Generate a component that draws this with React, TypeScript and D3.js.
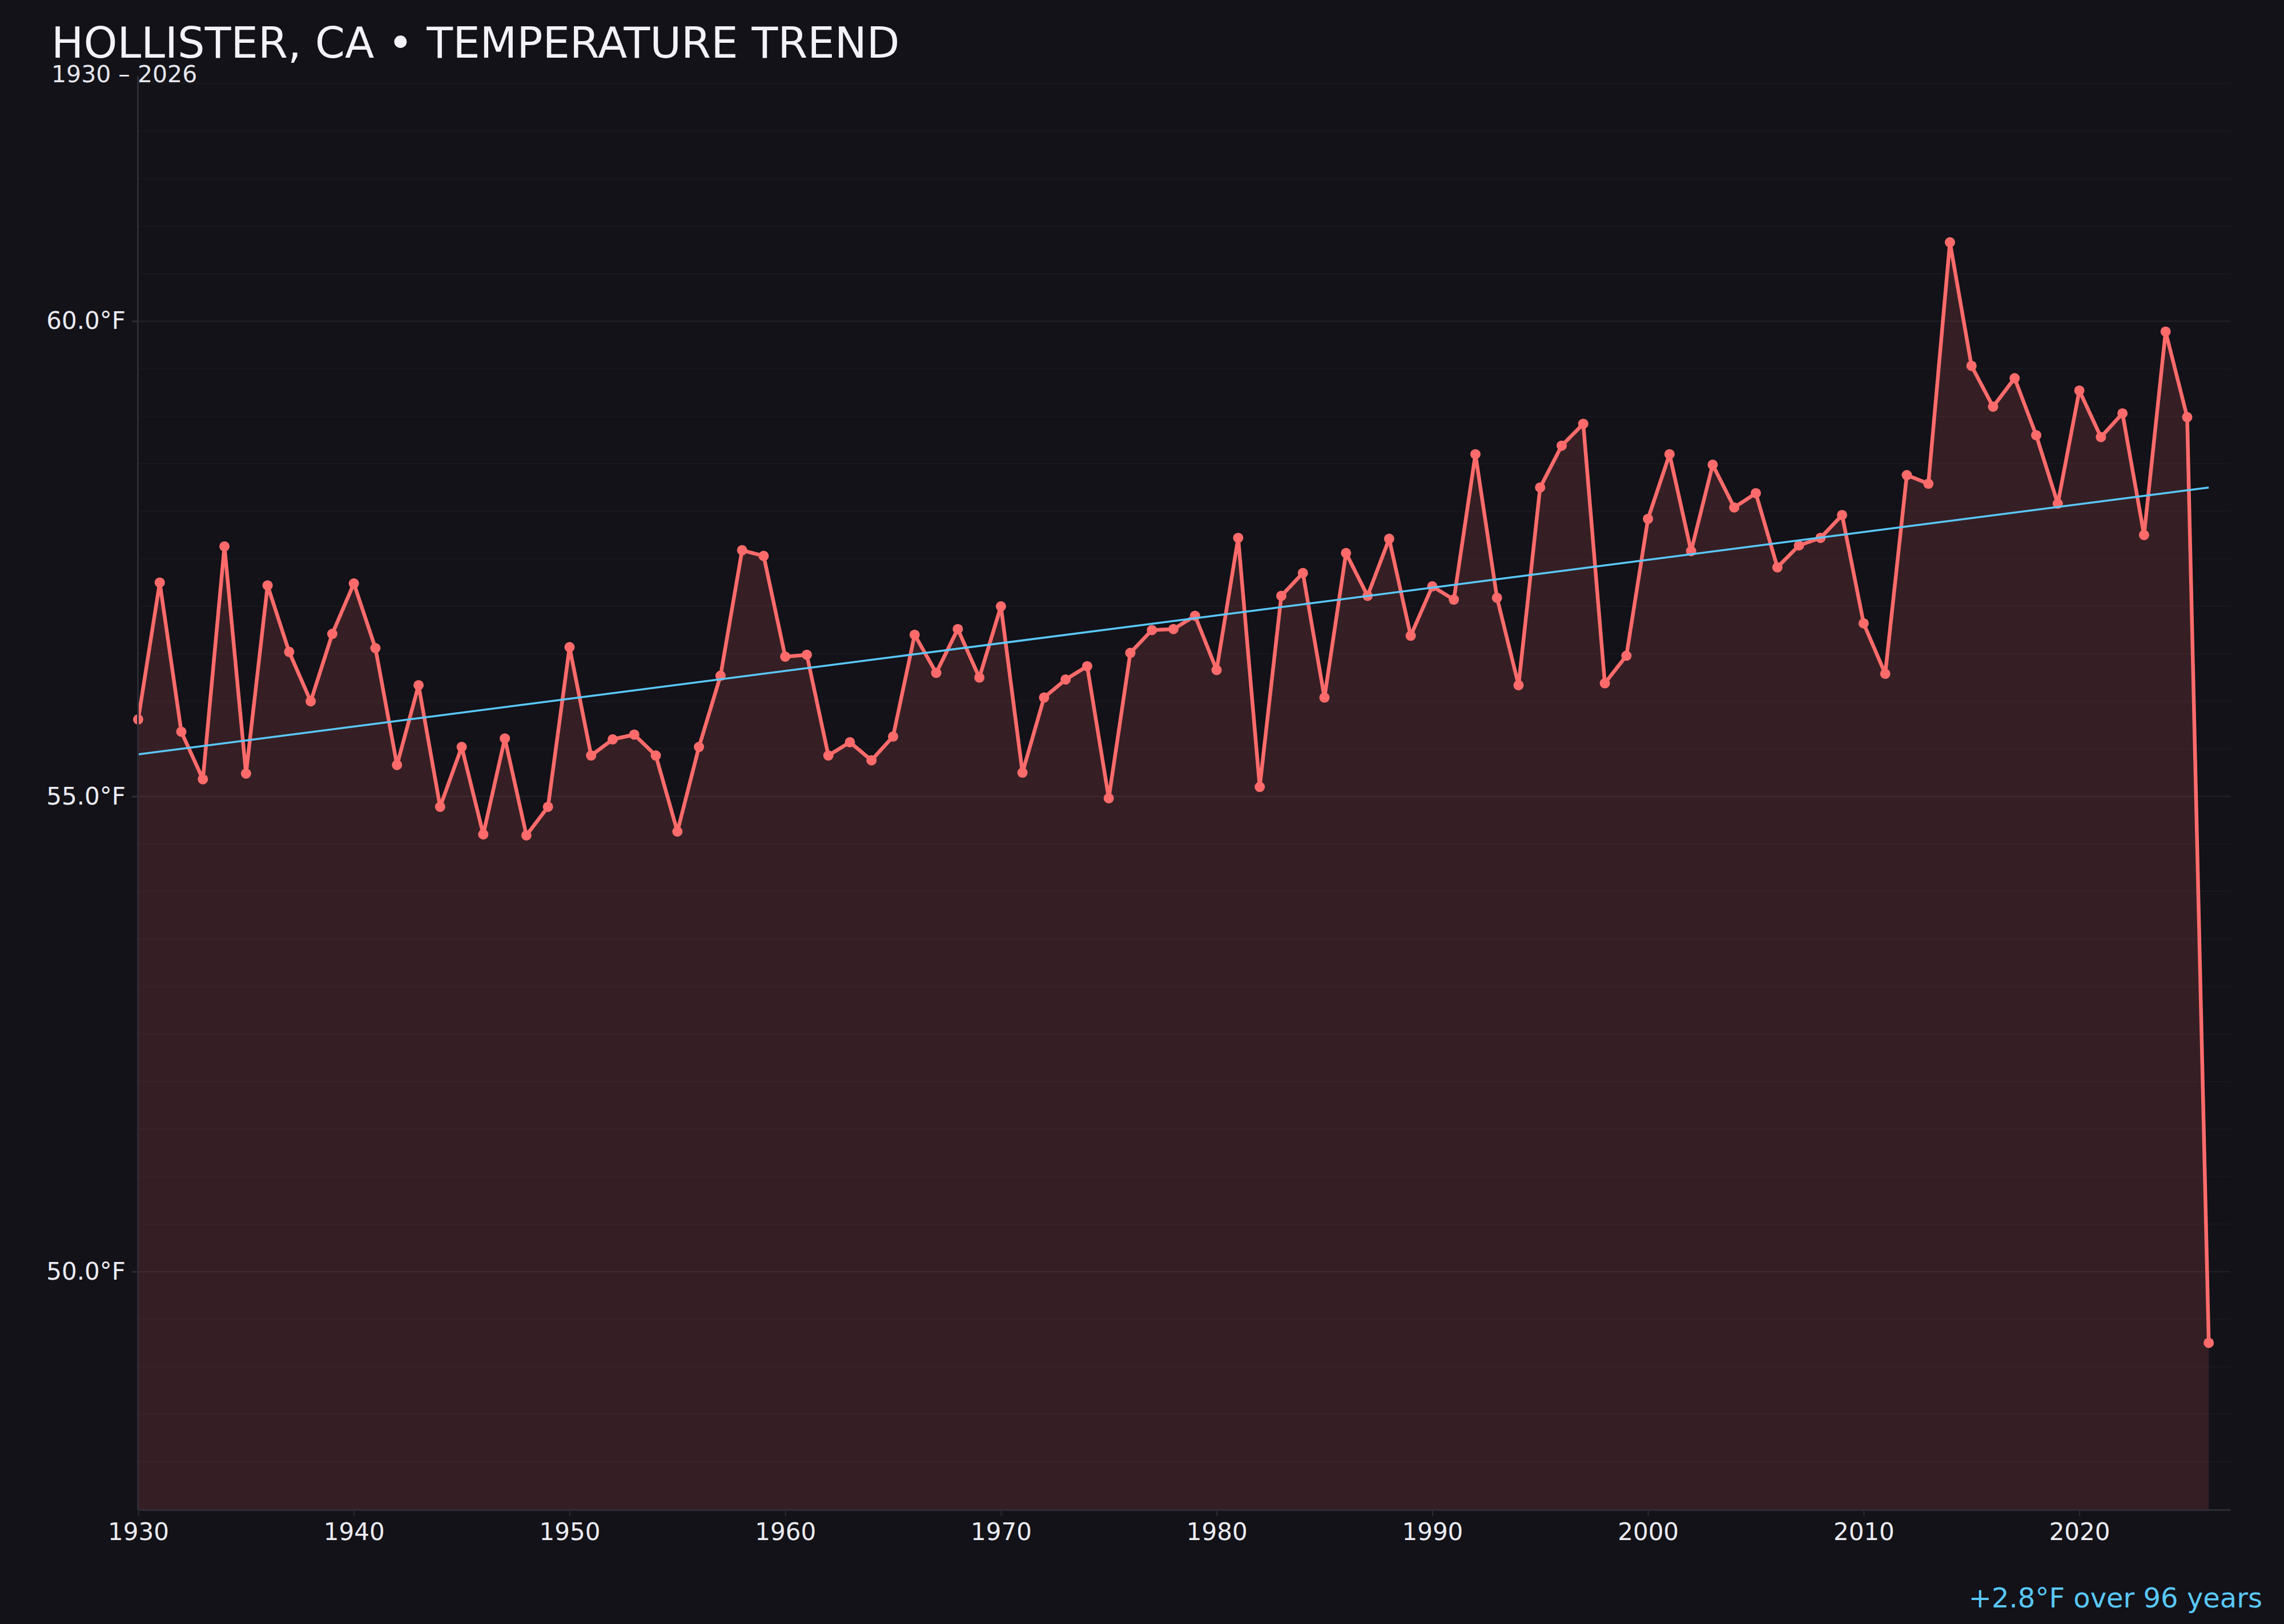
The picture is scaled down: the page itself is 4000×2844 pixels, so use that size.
import { useRef, useEffect } from 'react';
import * as d3 from 'd3';

// Annual mean temperature, Hollister CA (°F)
const YEARS: number[] = d3.range(1930, 2027);
const TEMPS: number[] = [
  55.81, 57.25, 55.68, 55.18, 57.63, 55.24, 57.22, 56.52, 56.0, 56.71,
  57.24, 56.56, 55.33, 56.17, 54.89, 55.52, 54.6, 55.61, 54.59, 54.89,
  56.57, 55.43, 55.6, 55.65, 55.43, 54.63, 55.52, 56.27, 57.59, 57.53,
  56.47, 56.49, 55.43, 55.57, 55.38, 55.63, 56.7, 56.3, 56.76, 56.25,
  57.0, 55.25, 56.04, 56.23, 56.37, 54.98, 56.51, 56.75, 56.76, 56.9,
  56.33, 57.72, 55.1, 57.11, 57.35, 56.04, 57.56, 57.11, 57.71, 56.69,
  57.21, 57.07, 58.6, 57.09, 56.17, 58.25, 58.69, 58.92, 56.19, 56.48,
  57.92, 58.6, 57.58, 58.49, 58.04, 58.19, 57.41, 57.64, 57.72, 57.96,
  56.82, 56.29, 58.38, 58.29, 60.83, 59.53, 59.1, 59.4, 58.8, 58.08,
  59.27, 58.78, 59.03, 57.75, 59.89, 58.99, 49.25,
];
const X_TICKS = [1930, 1940, 1950, 1960, 1970, 1980, 1990, 2000, 2010, 2020];
const Y_TICKS = [50, 55, 60];

const TITLE = 'HOLLISTER, CA \u2022 TEMPERATURE TREND';
const SUBTITLE = '1930 \u2013 2026';

const BG = '#121218';
const RED = '#ff6b6b';
const BLUE = '#5ac8fa';
const AXIS = '#2c2c35';
const FONT = '"DejaVu Sans", Verdana, sans-serif';

export default function App() {
  const svgRef = useRef<SVGSVGElement>(null);

  useEffect(() => {
    document.body.style.margin = '0';
    if (!svgRef.current) return;

    const width = 4000;
    const height = 2844;
    const margin = { top: 133, right: 94, bottom: 201, left: 242 };

    const svg = d3.select(svgRef.current);
    svg.selectAll('*').remove();
    svg.attr('width', width).attr('height', height).attr('viewBox', `0 0 ${width} ${height}`);

    const data = YEARS.map((yr, i) => ({ year: yr, temp: TEMPS[i] }));
    const [tMin, tMax] = d3.extent(TEMPS) as [number, number];

    const x = d3.scaleLinear().domain([1930, 2027]).range([margin.left, width - margin.right]);
    const y = d3.scaleLinear().domain([tMin - 1.75, tMax + 1.75]).range([height - margin.bottom, margin.top]);
    const bottom = height - margin.bottom;

    // Background
    svg.append('rect').attr('width', width).attr('height', height).attr('fill', BG);

    // Grid lines (every 0.5°F, labelled ones a bit stronger)
    svg.append('g')
      .selectAll('line')
      .data(y.ticks(30).filter(d => d > y.domain()[0]))
      .join('line')
      .attr('x1', margin.left).attr('x2', width - margin.right)
      .attr('y1', d => y(d)).attr('y2', d => y(d))
      .attr('stroke', '#ffffff')
      .attr('stroke-opacity', d => (Y_TICKS.includes(d) ? 0.055 : 0.022))
      .attr('stroke-width', 2.5);

    // Area
    const area = d3.area<{ year: number; temp: number }>()
      .x(d => x(d.year))
      .y0(bottom)
      .y1(d => y(d.temp));
    svg.append('path').datum(data).attr('d', area).attr('fill', RED).attr('fill-opacity', 0.15);

    // Line
    const line = d3.line<{ year: number; temp: number }>()
      .x(d => x(d.year))
      .y(d => y(d.temp));
    svg.append('path').datum(data).attr('d', line)
      .attr('fill', 'none').attr('stroke', RED).attr('stroke-width', 6.5)
      .attr('stroke-linejoin', 'round');

    // Points
    svg.append('g')
      .selectAll('circle')
      .data(data)
      .join('circle')
      .attr('cx', d => x(d.year)).attr('cy', d => y(d.temp))
      .attr('r', 9).attr('fill', RED);

    // Trend (least squares)
    const xm = d3.mean(YEARS) as number;
    const ym = d3.mean(TEMPS) as number;
    const sxy = d3.sum(YEARS, (yr, i) => (yr - xm) * (TEMPS[i] - ym));
    const sxx = d3.sum(YEARS, yr => (yr - xm) ** 2);
    const slope = sxy / sxx;
    const fit = (yr: number) => ym + slope * (yr - xm);
    const first = YEARS[0];
    const last = YEARS[YEARS.length - 1];
    svg.append('line')
      .attr('x1', x(first)).attr('y1', y(fit(first)))
      .attr('x2', x(last)).attr('y2', y(fit(last)))
      .attr('stroke', BLUE).attr('stroke-width', 3.5);

    // Y axis
    svg.append('g')
      .attr('transform', `translate(${margin.left - 1},0)`)
      .call(d3.axisLeft(y).tickValues(Y_TICKS).tickSize(10).tickSizeOuter(0).tickPadding(11)
        .tickFormat(d => `${(+d).toFixed(1)}°F`))
      .call(g => g.select('.domain').attr('stroke', AXIS).attr('stroke-width', 3))
      .call(g => g.selectAll('.tick line').attr('stroke', AXIS).attr('stroke-width', 3))
      .call(g => g.selectAll('.tick text').attr('fill', '#ececf2').attr('font-size', 42).attr('font-family', FONT));

    // X axis
    svg.append('g')
      .attr('transform', `translate(0,${bottom + 1})`)
      .call(d3.axisBottom(x).tickValues(X_TICKS).tickSize(11).tickSizeOuter(0).tickPadding(12)
        .tickFormat(d3.format('d')))
      .call(g => g.select('.domain').attr('stroke', AXIS).attr('stroke-width', 3))
      .call(g => g.selectAll('.tick line').attr('stroke', AXIS).attr('stroke-width', 2))
      .call(g => g.selectAll('.tick text').attr('fill', '#ececf2').attr('font-size', 42).attr('font-family', FONT));

    // Title
    svg.append('text')
      .attr('x', 90).attr('y', 101)
      .attr('fill', '#f2f2f7').attr('font-size', 75).attr('font-family', FONT)
      .text(TITLE);
    svg.append('text')
      .attr('x', 90).attr('y', 144)
      .attr('fill', '#e6e6ee').attr('font-size', 41).attr('font-family', FONT)
      .text(SUBTITLE);

    // Trend annotation
    const span = last - first;
    const delta = slope * span;
    svg.append('text')
      .attr('x', 3962).attr('y', 2815)
      .attr('text-anchor', 'end')
      .attr('fill', BLUE).attr('font-size', 48).attr('font-family', FONT)
      .text(`${delta >= 0 ? '+' : ''}${delta.toFixed(1)}°F over ${span} years`);
  }, []);

  return <svg ref={svgRef} style={{ display: 'block' }} />;
}
